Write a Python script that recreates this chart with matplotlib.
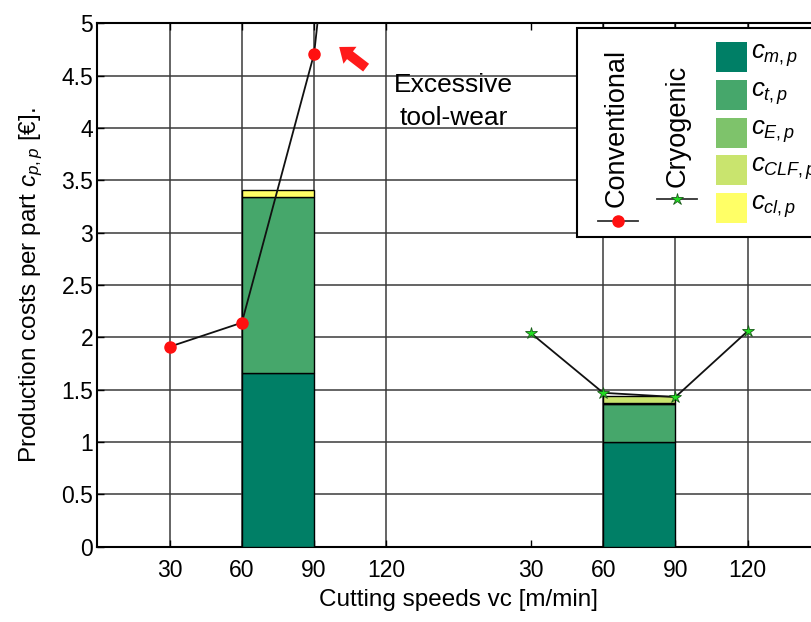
import matplotlib
matplotlib.use("Agg")
import matplotlib.pyplot as plt
from matplotlib.patches import Rectangle
from matplotlib.lines import Line2D

plt.rcParams['font.family'] = ['Liberation Sans', 'DejaVu Sans']
plt.rcParams['mathtext.fontset'] = 'custom'
plt.rcParams['mathtext.rm'] = 'Liberation Sans'
plt.rcParams['mathtext.it'] = 'Liberation Sans:italic'
plt.rcParams['mathtext.bf'] = 'Liberation Sans:bold'

# ---------------- data ----------------
speeds = [30, 60, 90, 120]
group_offset = 150                      # cryogenic group shifted along the axis
tick_labels = ["30", "60", "90", "120", "30", "60", "90", "120"]

conv_speeds = [30, 60, 90, 120]
conv_cost = [1.91, 2.14, 4.71, 11.0]     # last point runs off the chart
cryo_speeds = [30, 60, 90, 120]
cryo_cost = [2.04, 1.47, 1.43, 2.06]

bar_left = [60, 60 + 150]               # bars span 60-90 in each group
component_names = ["$c_{m,p}$", "$c_{t,p}$", "$c_{E,p}$", "$c_{CLF,p}$", "$c_{cl,p}$"]
c_m = [1.66, 1.00]
c_t = [1.68, 0.36]
c_E = [0.00, 0.01]
c_CLF = [0.00, 0.07]
c_cl = [0.07, 0.00]
components = [c_m, c_t, c_E, c_CLF, c_cl]
comp_colors = ["#007F66", "#46A76B", "#7EC36B", "#C9E46E", "#FFFF66"]

# ---------------- figure ----------------
W, H = 812, 622
fig = plt.figure(figsize=(W / 100, H / 100), dpi=100)
fig.patch.set_facecolor("white")

def fx(px):
    return px / W

def fy(py):
    return 1 - py / H

ax_l, ax_r, ax_t, ax_b = 97.3, 820, 23.3, 546.7
ax = fig.add_axes([fx(ax_l), fy(ax_b), (ax_r - ax_l) / W, (ax_b - ax_t) / H])
ax.set_xlim(0, 300)
ax.set_ylim(0, 5)

xt = speeds + [s + group_offset for s in speeds]
ax.set_xticks(xt)
ax.set_xticklabels(tick_labels, fontsize=16.5)
ax.set_yticks([0, 0.5, 1, 1.5, 2, 2.5, 3, 3.5, 4, 4.5, 5])
ax.set_yticklabels(["0", "0.5", "1", "1.5", "2", "2.5", "3", "3.5", "4", "4.5", "5"], fontsize=16.5)
ax.tick_params(direction="in", length=5, width=1, top=True, right=True, colors="black")
ax.tick_params(axis="x", pad=9)
ax.tick_params(axis="y", pad=3)

ax.grid(True, color="#3a3a3a", linewidth=1.1, zorder=0)
ax.set_axisbelow(True)
# no vertical gridline at the first cryogenic speed
ax.xaxis.get_gridlines()[4].set_visible(False)

for sp in ax.spines.values():
    sp.set_linewidth(1.5)
    sp.set_color("black")

# stacked bars
for g in range(2):
    bottom = 0.0
    for comp, col in zip(components, comp_colors):
        h = comp[g]
        if h > 0:
            ax.bar(bar_left[g], h, width=30, bottom=bottom, align="edge",
                   color=col, edgecolor="black", linewidth=1.0, zorder=3)
        bottom += h

# lines
ax.plot(conv_speeds, conv_cost, color="#111111", lw=1.3, marker="o",
        markersize=8, markerfacecolor="#FF1010", markeredgecolor="#FF1010", zorder=5)
ax.plot([s + group_offset for s in cryo_speeds], cryo_cost, color="#111111", lw=1.3,
        marker="*", markersize=9, markerfacecolor="#22DD22", markeredgecolor="#1a5a1a",
        markeredgewidth=0.6, zorder=5)

# annotation
ax.annotate("", xy=(99.5, 4.79), xytext=(112.5, 4.56),
            arrowprops=dict(arrowstyle="simple,head_width=1.1,head_length=0.7,tail_width=0.5",
                            color="#FF1A1A", lw=0, mutation_scale=14), zorder=6)
ax.text(148, 4.41, "Excessive", fontsize=19, ha="center", va="center", zorder=6)
ax.text(148, 4.10, "tool-wear", fontsize=19, ha="center", va="center", zorder=6)

ax.set_xlabel("Cutting speeds vc [m/min]", fontsize=17.5, labelpad=5)
ax.set_ylabel("Production costs per part $c_{p,p}$ [€].", fontsize=17.5, labelpad=12)

# ---------------- custom legend ----------------
box = Rectangle((fx(577), fy(237)), fx(840) - fx(577), fy(28) - fy(237),
                transform=fig.transFigure, facecolor="white", edgecolor="black",
                linewidth=1.5, zorder=10)
fig.add_artist(box)

fig.text(fx(617), fy(128), "Conventional", rotation=90, fontsize=19.5,
         ha="center", va="center", zorder=11)
fig.text(fx(678), fy(126), "Cryogenic", rotation=90, fontsize=19.5,
         ha="center", va="center", zorder=11)
fig.add_artist(Line2D([fx(598), fx(638)], [fy(221), fy(221)], transform=fig.transFigure,
                      color="#333333", lw=1.3, zorder=11))
fig.add_artist(Line2D([fx(618)], [fy(221)], transform=fig.transFigure, marker="o",
                      markersize=8, color="#FF1010", zorder=12))
fig.add_artist(Line2D([fx(657), fx(697)], [fy(199), fy(199)], transform=fig.transFigure,
                      color="#333333", lw=1.3, zorder=11))
fig.add_artist(Line2D([fx(677)], [fy(199)], transform=fig.transFigure, marker="*",
                      markersize=9, markerfacecolor="#22DD22", markeredgecolor="#1a5a1a",
                      markeredgewidth=0.6, zorder=12))

patch_tops = [42, 80, 118, 155, 193]
for top, col, name in zip(patch_tops, comp_colors, component_names):
    fig.add_artist(Rectangle((fx(716), fy(top + 30)), fx(747) - fx(716), fy(top) - fy(top + 30),
                             transform=fig.transFigure, facecolor=col, edgecolor="none",
                             zorder=11))
    fig.text(fx(751), fy(top + 14), name, fontsize=18.5, ha="left", va="center", zorder=11)

fig.savefig("out.png", dpi=100)
